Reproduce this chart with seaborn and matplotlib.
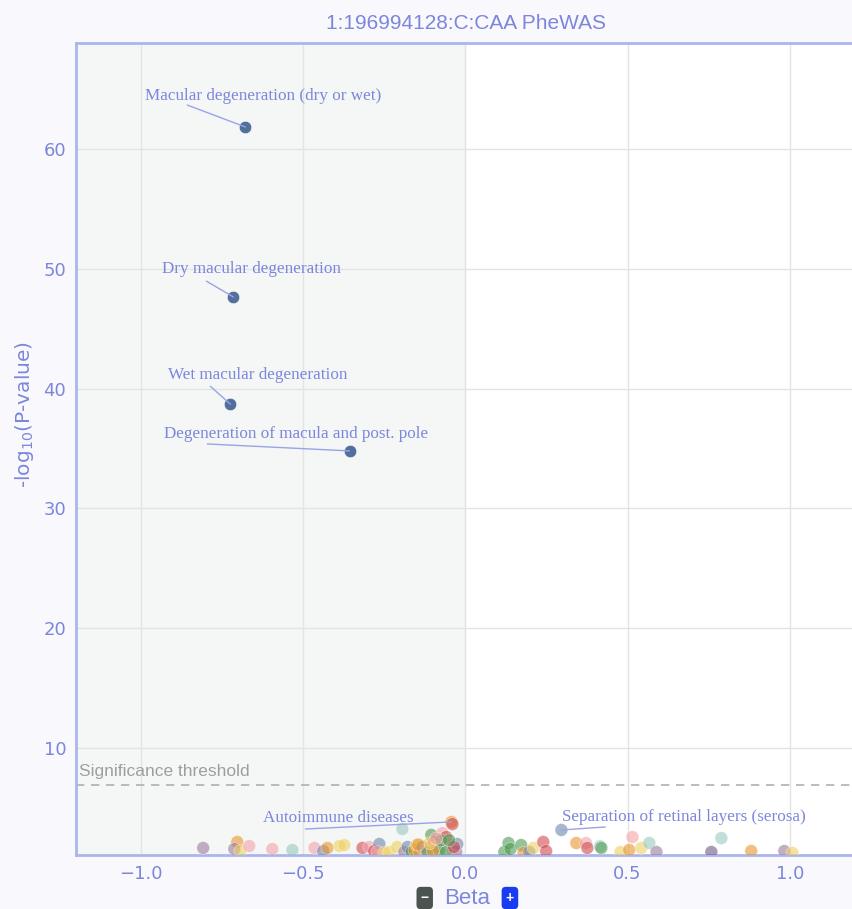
import matplotlib
matplotlib.use("Agg")
import matplotlib.pyplot as plt
import seaborn as sns
import pandas as pd

# top associations (labelled, dark blue)
top_beta = [-0.678, -0.715, -0.724, -0.357]
top_logp = [61.84, 47.65, 38.70, 34.80]
top_names = ["Macular degeneration (dry or wet)", "Dry macular degeneration",
             "Wet macular degeneration", "Degeneration of macula and post. pole"]

# remaining phenotypes
beta = [-0.808, -0.703, -0.712, -0.694, -0.666, -0.595, -0.533, -0.465, -0.438, -0.425,
        -0.388, -0.373, -0.317, -0.296, -0.281, -0.265, -0.271, -0.250, -0.235, -0.210,
        -0.194, -0.188, -0.178, -0.166, -0.157, -0.151, -0.142, -0.132, -0.120, -0.117,
        -0.105, -0.096, -0.089, -0.080, -0.071, -0.059, -0.050, -0.043, -0.040, -0.040,
        -0.028, -0.025, -0.100, -0.060, -0.035, -0.075, -0.110, -0.145, -0.090, -0.050,
        0.120, 0.133, 0.139, 0.172, 0.179, 0.197, 0.210, 0.240, 0.249, 0.296,
        0.342, 0.372, 0.376, 0.415, 0.419, 0.478, 0.505, 0.515, 0.542, 0.567,
        0.589, 0.758, 0.789, 0.881, 0.983, 1.008]
neglogp = [1.66, 2.16, 1.57, 1.40, 1.82, 1.57, 1.49, 1.66, 1.40, 1.66,
           1.82, 1.90, 1.66, 1.74, 1.40, 1.99, 1.32, 1.24, 1.32, 1.74,
           3.24, 1.32, 1.74, 1.32, 1.49, 1.90, 1.32, 1.74, 1.57, 1.32,
           2.75, 2.16, 1.74, 1.49, 2.90, 2.57, 1.99, 3.83, 3.65, 1.49,
           1.32, 1.99, 1.40, 1.32, 1.74, 2.30, 2.05, 1.95, 2.45, 2.30,
           1.32, 2.07, 1.57, 1.90, 1.24, 1.32, 1.66, 2.16, 1.40, 3.16,
           2.07, 2.07, 1.66, 1.80, 1.66, 1.32, 1.49, 2.57, 1.66, 2.07,
           1.32, 1.32, 2.48, 1.40, 1.40, 1.24]
group = ["purple", "orange", "purple", "yellow", "pink", "pink", "teal", "pink", "bluegray", "orange",
         "yellow", "yellow", "red", "pink", "red", "bluegray", "pink", "yellow", "yellow", "yellow",
         "teal", "purple", "bluegray", "green", "orange", "yellow", "orange", "bluegray", "pink", "green",
         "green", "red", "pink", "green", "pink", "red", "pink", "orange", "red", "pink",
         "purple", "bluegray", "orange", "green", "red", "green", "yellow", "orange", "pink", "green",
         "green", "green", "green", "green", "orange", "bluegray", "yellow", "red", "red", "bluegray",
         "orange", "pink", "red", "teal", "green", "yellow", "orange", "pink", "yellow", "teal",
         "purple", "darkpurple", "teal", "orange", "purple", "yellow"]

palette = {"purple": "#9c7a9e", "orange": "#e8952f", "pink": "#f3a3a8", "teal": "#98c8be",
           "yellow": "#efd060", "red": "#cf4a4f", "green": "#4f9a52", "bluegray": "#6d87ad",
           "darkpurple": "#6e5a85"}

threshold = 6.9
txt = "#7b86dc"
df = pd.DataFrame({"beta": beta, "logp": neglogp, "group": group})
top = pd.DataFrame({"beta": top_beta, "logp": top_logp, "name": top_names})

fig = plt.figure(figsize=(8.52, 9.09), dpi=100, facecolor="#f9f9fd")
ax = fig.add_axes([0.0892, 0.0594, 0.914, 0.8933])
sns.set_style("white")
plt.rcParams["font.family"] = ["Liberation Sans", "DejaVu Sans"]
ax.set_facecolor("white")
ax.axvspan(-1.2, 0, color="#f5f7f6", zorder=0)
ax.grid(True, color="#e3e3e3", linewidth=1, zorder=0.5)
ax.set_axisbelow(True)

sns.scatterplot(data=df, x="beta", y="logp", hue="group", palette=palette, s=85, alpha=0.6,
                edgecolor="white", linewidth=0.4, legend=False, ax=ax, zorder=3)
sns.scatterplot(data=top, x="beta", y="logp", color="#4a6896", s=80, alpha=0.95,
                edgecolor="white", linewidth=0.4, legend=False, ax=ax, zorder=4)

ax.axhline(threshold, color="#b0b0b0", linestyle=(0, (5, 4)), linewidth=1.2, zorder=2)
ax.text(-1.19, threshold + 0.5, "Significance threshold", color="#9aa0a0", fontsize=12.5,
        va="bottom", ha="left")

# annotations: (text x, text y, line start x, line start y, point x, point y, text)
notes = [(-0.624, 64.4, -0.857, 63.67, top_beta[0], top_logp[0], top_names[0]),
         (-0.659, 49.98, -0.798, 48.97, top_beta[1], top_logp[1], top_names[1]),
         (-0.641, 41.14, -0.786, 40.2, top_beta[2], top_logp[2], top_names[2]),
         (-0.521, 36.21, -0.795, 35.38, top_beta[3], top_logp[3], top_names[3]),
         (-0.391, 4.16, -0.493, 3.24, -0.043, 3.83, "Autoimmune diseases"),
         (0.672, 4.25, 0.431, 3.41, 0.296, 3.16, "Separation of retinal layers (serosa)")]
for tx, ty, lx, ly, px, py, name in notes:
    ax.annotate("", xy=(px, py), xytext=(lx, ly),
                arrowprops=dict(arrowstyle="-", color="#9aa3e6", lw=1, shrinkA=0, shrinkB=0),
                zorder=5)
    ax.text(tx, ty, name, ha="center", va="center", color=txt, fontsize=12.3,
            family=["Liberation Serif", "DejaVu Serif"], zorder=6)

ax.set_xlim(-1.2, 1.2)
ax.set_ylim(1.07, 68.85)
ax.set_xticks([-1.0, -0.5, 0.0, 0.5, 1.0])
ax.set_xticklabels(["\u22121.0", "\u22120.5", "0.0", "0.5", "1.0"])
ax.set_yticks([10, 20, 30, 40, 50, 60])
ax.tick_params(colors=txt, labelsize=13, length=0, pad=7)
for side in ["left", "bottom", "top"]:
    ax.spines[side].set_color("#aab5ee")
    ax.spines[side].set_linewidth(2)
ax.spines["right"].set_visible(False)

ax.set_xlabel("")
ax.set_ylabel(r"-log$_{10}$(P-value)", color=txt, fontsize=14.5)
ax.yaxis.set_label_coords(-0.052, 0.542)
fig.text(0.548, 0.0121, "Beta", color=txt, fontsize=16, ha="center", va="center")
fig.text(0.4985, 0.0121, "\u2212", color="white", fontsize=10, ha="center", va="center", weight="bold",
         bbox=dict(boxstyle="round,pad=0.3,rounding_size=0.3", fc="#4a5350", ec="none"))
fig.text(0.5985, 0.0121, "+", color="white", fontsize=10, ha="center", va="center", weight="bold",
         bbox=dict(boxstyle="round,pad=0.3,rounding_size=0.3", fc="#1a3cf0", ec="none"))
fig.text(0.547, 0.974, "1:196994128:C:CAA PheWAS", color=txt, fontsize=15, ha="center", va="center")

fig.savefig("out.png", dpi=100, facecolor=fig.get_facecolor())
